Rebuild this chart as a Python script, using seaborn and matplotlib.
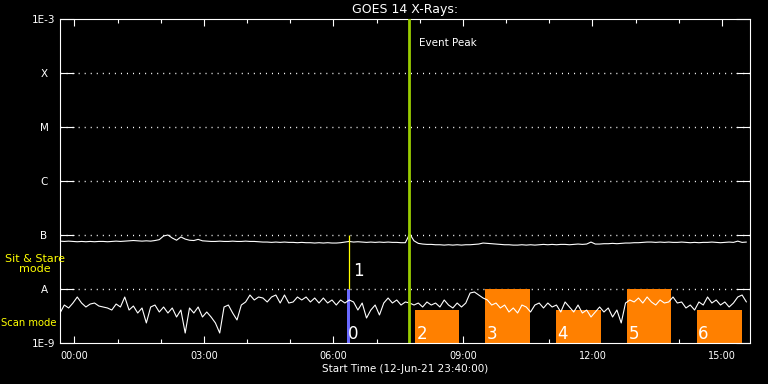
import numpy as np
import pandas as pd
import seaborn as sns
import matplotlib.pyplot as plt
from matplotlib.ticker import MultipleLocator, FixedLocator, NullLocator, FuncFormatter

# Tema escuro
sns.set_theme(style="ticks", rc={
    "axes.facecolor": "black",
    "figure.facecolor": "black",
    "axes.edgecolor": "white",
    "text.color": "white",
    "xtick.color": "white",
    "ytick.color": "white",
    "axes.labelcolor": "white",
})
plt.rcParams["font.family"] = ["DejaVu Sans"]

# Dados (horas relativas a 13-Jun 00:00, fluxo em unidades de 1e-9 W/m2)
t_start = -20 / 60
cadence = 0.1  # 6 min

flux_low = [
    3.59, 5.05, 4.45, 5.50, 7.11, 5.50, 4.64, 5.27, 5.50, 4.84,
    4.64, 4.45, 4.08, 5.27, 4.64, 7.11, 4.08, 4.84, 3.59, 4.45,
    2.35, 4.64, 5.05, 3.75, 4.64, 3.59, 4.45, 3.03, 4.08, 1.53,
    4.45, 3.59, 4.64, 3.03, 3.75, 3.03, 2.35, 1.53, 4.64, 5.05,
    3.59, 2.67, 5.05, 5.75, 7.74, 6.26, 7.11, 6.81, 5.75, 7.11,
    7.74, 5.50, 7.74, 5.50, 5.75, 7.11, 6.26, 7.11, 5.75, 6.81,
    5.50, 6.81, 5.50, 6.26, 5.05, 6.26, 5.50, 6.26, 5.75, 4.08,
    5.50, 2.90, 4.08, 5.05, 3.30, 5.50, 6.81, 5.50, 6.26, 5.05,
    5.75, 5.50, 5.05, 5.50, 4.64, 5.75, 5.05, 5.50, 4.64, 6.26,
    5.05, 4.45, 5.50, 4.64, 5.50, 8.43, 8.80, 7.74, 6.81, 6.26,
    5.05, 5.50, 4.45, 5.05, 3.75, 4.45, 3.59, 5.05, 4.64, 3.75,
    5.05, 5.50, 4.45, 5.50, 4.64, 5.05, 3.75, 5.75, 4.64, 3.75,
    5.05, 3.59, 4.08, 3.03, 3.75, 4.64, 3.75, 4.45, 3.03, 4.08,
    2.35, 5.50, 6.26, 5.75, 6.81, 5.50, 7.11, 5.75, 5.05, 6.26,
    5.50, 5.75, 7.11, 5.50, 5.75, 4.45, 5.05, 4.08, 5.75, 5.05,
    7.11, 5.50, 6.26, 5.05, 5.75, 4.64, 5.50, 7.11, 7.74, 5.75,
]

flux_high = [
    77, 76, 77, 76, 75, 76, 75, 76, 75, 76,
    76, 75, 76, 77, 76, 77, 78, 79, 78, 77,
    78, 77, 79, 82, 96, 100, 88, 80, 92, 84,
    80, 79, 83, 78, 77, 76, 76, 77, 76, 76,
    77, 76, 76, 77, 76, 76, 75, 74, 74, 73,
    74, 73, 74, 73, 73, 72, 73, 72, 72, 71,
    72, 71, 72, 71, 71, 72, 74, 76, 74, 75,
    74, 73, 74, 73, 74, 73, 74, 73, 73, 72,
    72, 105, 78, 70, 68, 67, 67, 66, 66, 65,
    66, 65, 66, 65, 66, 66, 67, 68, 71, 70,
    69, 68, 67, 66, 66, 65, 65, 66, 65, 66,
    65, 66, 67, 66, 67, 66, 67, 67, 66, 67,
    68, 67, 68, 74, 68, 68, 69, 69, 70, 69,
    70, 71, 71, 72, 72, 73, 74, 74, 73, 74,
    73, 74, 73, 73, 74, 73, 72, 73, 72, 73,
    73, 74, 73, 72, 73, 74, 73, 77, 73, 74,
]

# Janelas de "scan mode"
scan_ids = ["2", "3", "4", "5", "6"]
scan_start = [7.89, 9.51, 11.16, 12.80, 14.42]
scan_end = [8.90, 10.55, 12.20, 13.82, 15.46]
scan_top = [4.1e-9, 1e-8, 4.1e-9, 1e-8, 4.1e-9]

# Eventos
event0_start, event0_end = 6.32, 6.39
event1_time = 6.37
peak_time = 7.75

class_ticks = [1e-9, 1e-8, 1e-7, 1e-6, 1e-5, 1e-4, 1e-3]
class_labels = ["1E-9", "A", "B", "C", "M", "X", "1E-3"]
hour_ticks = [0, 3, 6, 9, 12, 15]

t = t_start + cadence * np.arange(len(flux_low))
df = pd.DataFrame({
    "t": np.concatenate([t, t]),
    "flux": np.concatenate([np.array(flux_low), np.array(flux_high)]) * 1e-9,
    "canal": ["low"] * len(t) + ["high"] * len(t),
})

fig = plt.figure(figsize=(7.68, 3.84), dpi=100)
ax = fig.add_axes([60 / 768, 41 / 384, 690 / 768, 324 / 384])
ax.set_yscale("log")

# linhas pontilhadas das classes
for y in class_ticks[1:-1]:
    ax.axhline(y, color="white", lw=1.0, ls=(0, (0.75, 3.6)), zorder=1)

# caixas do scan mode
ax.bar(scan_start, np.array(scan_top) - 1e-9, width=np.array(scan_end) - np.array(scan_start),
       bottom=1e-9, align="edge", color="#ff8000", lw=0, zorder=2)
for sid, s in zip(scan_ids, scan_start):
    ax.text(s + 0.03, 1.2e-9, sid, color="white", fontsize=12, ha="left", va="baseline", zorder=5)

# evento 0 e 1
ax.bar([event0_start], [1e-8 - 1e-9], width=event0_end - event0_start, bottom=1e-9,
       align="edge", color="#6a6aff", lw=0, zorder=2)
ax.text(event0_start + 0.02, 1.2e-9, "0", color="white", fontsize=12, ha="left", va="baseline", zorder=5)
ax.vlines(event1_time, 1e-8, 1e-7, color="#ffff00", lw=0.9, zorder=4)
ax.text(event1_time + 0.08, 2.2e-8, "1", color="white", fontsize=12, ha="left", va="center", zorder=5)

sns.lineplot(data=df, x="t", y="flux", units="canal", estimator=None, color="white",
             lw=0.8, ax=ax, zorder=3, legend=False)

# event peak
ax.axvline(peak_time, color="#99cc00", lw=2, zorder=4)
ax.text(peak_time + 0.23, 3.6e-4, "Event Peak", color="white", fontsize=7.5, ha="left", va="center")

ax.set_xlim(t_start, 15.65)
ax.set_ylim(1e-9, 1e-3)

ax.xaxis.set_major_locator(FixedLocator(hour_ticks))
ax.xaxis.set_minor_locator(MultipleLocator(1))
ax.xaxis.set_major_formatter(FuncFormatter(lambda v, p: f"{int(round(v)):02d}:00"))
ax.yaxis.set_major_locator(FixedLocator(class_ticks))
ax.yaxis.set_minor_locator(NullLocator())
ax.set_yticklabels(class_labels, ha="center")

ax.tick_params(axis="x", which="major", direction="in", length=5, width=0.8,
               top=True, bottom=True, labelsize=7, pad=6)
ax.tick_params(axis="x", which="minor", direction="in", length=3, width=0.8,
               top=True, bottom=True)
ax.tick_params(axis="y", which="major", direction="in", length=10, width=0.8,
               left=True, right=True, labelsize=7.5, pad=11.5)

for sp in ax.spines.values():
    sp.set_color("white")
    sp.set_linewidth(0.8)
    sp.set_visible(True)

ax.set_xlabel("Start Time (12-Jun-21 23:40:00)", fontsize=7.5, labelpad=2)
ax.set_ylabel("")
ax.set_title("GOES 14 X-Rays:", color="white", fontsize=9, pad=4)

# textos amarelos na margem
fig.text(35 / 768, 1 - 264 / 384, "Sit & Stare\nmode", color="#ffff00", fontsize=8,
         ha="center", va="center", linespacing=1.1)
fig.text(29 / 768, 1 - 323 / 384, "Scan mode", color="#ffff00", fontsize=7.2,
         ha="center", va="center")

fig.savefig("out.png", dpi=100, facecolor="black")
